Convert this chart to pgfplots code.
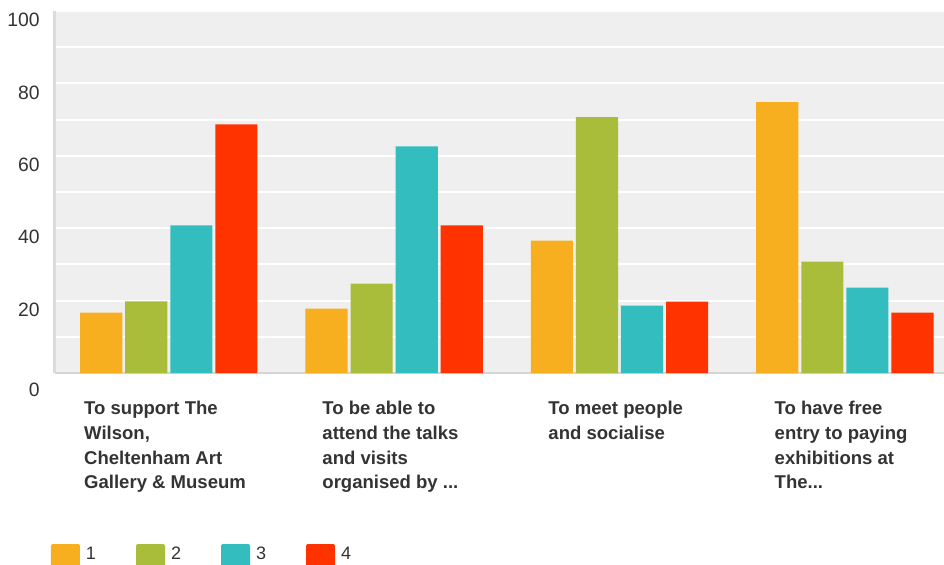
\documentclass[border=0pt]{standalone}
\usepackage{fontspec}
\setmainfont{Liberation Sans}
\usepackage{pgfplots}
\pgfplotsset{compat=1.18}
\definecolor{cOr}{HTML}{F7AF20}
\definecolor{cGr}{HTML}{AABD3A}
\definecolor{cTe}{HTML}{33BDBF}
\definecolor{cRe}{HTML}{FF3300}
\definecolor{bg}{HTML}{EFEFEF}
\definecolor{txt}{HTML}{333333}
\newcommand{\ddd}{...}
\begin{document}
\begin{tikzpicture}
\clip (0,0) rectangle (708pt,423pt);
\begin{axis}[
  at={(41.25pt,143.25pt)}, anchor=south west,
  scale only axis, width=666.75pt, height=271.5pt,
  xmin=-0.505, xmax=3.44, ymin=0, ymax=100,
  ybar, bar width=0.187,
  axis background/.style={fill=bg},
  axis x line*=bottom, axis y line*=left,
  x axis line style={draw=black!17, line width=1.5pt, -},
  y axis line style={draw=black!14, line width=2.25pt, -},
  ytick={20,40,60,80,100}, minor ytick={10,30,50,70,90},
  ymajorgrids, yminorgrids,
  major grid style={draw=white, line width=1.5pt},
  minor grid style={draw=white, line width=1.5pt},
  extra y ticks={0},
  extra y tick style={grid=none, yticklabel style={yshift=-5.6pt}},
  major tick length=0pt, minor tick length=0pt,
  /pgf/number format/assume math mode=true,
  yticklabel style={font=\fontsize{14.5}{17}\selectfont, text=txt, anchor=east, inner sep=0pt, xshift=-11.25pt, yshift=-6.75pt},
  xtick={0,1,2,3},
  xticklabels={{To support The\\Wilson,\\Cheltenham Art\\Gallery \& Museum},
               {To be able to\\attend the talks\\and visits\\organised by \ddd},
               {To meet people\\and socialise},
               {To have free\\entry to paying\\exhibitions at\\The\ddd}},
  xticklabel style={font=\fontsize{13.9}{18.5}\selectfont\bfseries, text=txt, align=left, anchor=north, inner sep=0pt, yshift=-21pt, xshift=-2.8pt},
  legend columns=4,
  legend cell align=left,
  legend style={at={(axis description cs:0,0)}, anchor=north west, xshift=-3pt, yshift=-128.25pt,
    draw=none, fill=none, inner sep=0pt, outer sep=0pt,
    font=\fontsize{13.5}{16}\selectfont, text=txt,
    nodes={inner sep=0pt, text depth=0pt},
    /tikz/every odd column/.append style={column sep=4.5pt},
    /tikz/every even column/.append style={column sep=30pt}},
  legend image code/.code={\fill[#1, draw=none, rounded corners=1.5pt] (0pt,-14.6pt) rectangle (21.75pt,7.15pt);},
]
\addplot[fill=cOr, draw=none, bar shift=-0.3] coordinates {(0,16.7) (1,17.8) (2,36.6) (3,74.8)};
\addplot[fill=cGr, draw=none, bar shift=-0.1] coordinates {(0,19.8) (1,24.7) (2,70.7) (3,30.8)};
\addplot[fill=cTe, draw=none, bar shift=0.1] coordinates {(0,40.8) (1,62.6) (2,18.6) (3,23.6)};
\addplot[fill=cRe, draw=none, bar shift=0.3] coordinates {(0,68.7) (1,40.8) (2,19.7) (3,16.7)};
\legend{1,2,3,4}
\end{axis}
\end{tikzpicture}
\end{document}
